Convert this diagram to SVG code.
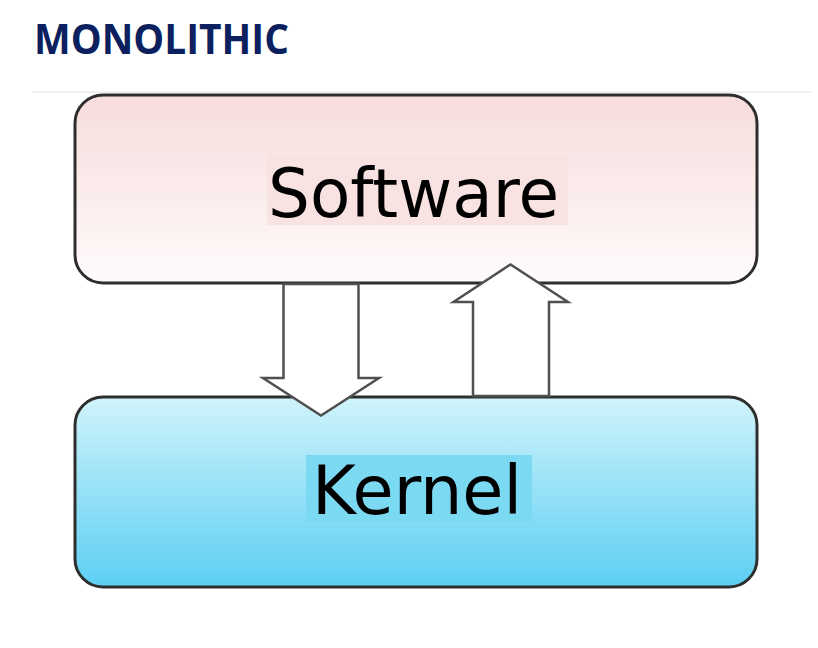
<svg xmlns="http://www.w3.org/2000/svg" width="818" height="648" viewBox="0 0 818 648">
  <defs>
    <linearGradient id="gSoft" x1="0" y1="0" x2="0" y2="1">
      <stop offset="0" stop-color="#f7dcdc"/>
      <stop offset="1" stop-color="#fffbfb"/>
    </linearGradient>
    <linearGradient id="gKern" x1="0" y1="0" x2="0" y2="1">
      <stop offset="0" stop-color="#d0f3fb"/>
      <stop offset="1" stop-color="#5ccff3"/>
    </linearGradient>
  </defs>
  <style>
    .box { stroke: #2e2e2e; stroke-width: 3; }
    .arrow { fill: #ffffff; stroke: #505050; stroke-width: 2.5; stroke-linejoin: miter; }
    .label { font-family: "DejaVu Sans", sans-serif; font-size: 68px; fill: #000000; }
    .title { font-family: "Open Sans", "Liberation Sans", sans-serif; font-weight: bold; font-size: 42px; fill: #0c1f5e; }
  </style>
  <rect x="0" y="0" width="818" height="648" fill="#ffffff"/>
  <text class="title" x="34" y="53.5" textLength="255" lengthAdjust="spacingAndGlyphs">MONOLITHIC</text>
  <line x1="32" y1="92" x2="812" y2="92" stroke="#f0f0f0" stroke-width="2"/>

  <g id="software">
    <rect class="box" x="75" y="95" width="682" height="188" rx="28" ry="28" fill="url(#gSoft)"/>
    <rect x="267" y="155" width="301" height="70" fill="#f8e2e2"/>
    <text class="label" x="268" y="217" textLength="291" lengthAdjust="spacingAndGlyphs">Software</text>
  </g>

  <g id="kernel">
    <rect class="box" x="75" y="397" width="682" height="190" rx="28" ry="28" fill="url(#gKern)"/>
    <rect x="306" y="455" width="226" height="67" fill="#7bd9f1"/>
    <text class="label" x="312" y="514" textLength="210" lengthAdjust="spacingAndGlyphs">Kernel</text>
  </g>

  <g id="connectors">
    <polygon class="arrow" points="283.5,284 358.5,284 358.5,378 379,378 321,415.5 263,378 283.5,378"/>
    <polygon class="arrow" points="473,396 549,396 549,302 568,302 510.5,264.5 453.5,302 473,302"/>
  </g>
</svg>
